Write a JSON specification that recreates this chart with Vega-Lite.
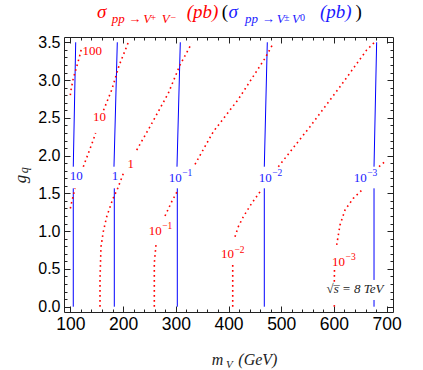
{
  "$schema": "https://vega.github.io/schema/vega-lite/v6.json",
  "width": 329,
  "height": 275,
  "autosize": {"type": "none"},
  "padding": {"left": 64, "top": 37, "right": 30, "bottom": 58},
  "background": "white",
  "config": {
    "view": {"stroke": "#222222", "strokeWidth": 1},
    "axis": {"grid": false, "domain": false, "tickColor": "#222222", "tickWidth": 1, "labelFlush": false, "labelOverlap": false, "title": null}
  },
  "datasets": {
    "blue": [
      {"s": "b10a", "m": 105.6, "g": 0}, {"s": "b10a", "m": 105.6, "g": 1.567},
      {"s": "b10b", "m": 105.6, "g": 1.853}, {"s": "b10b", "m": 110.2, "g": 3.5},
      {"s": "b1a", "m": 183.4, "g": 0}, {"s": "b1a", "m": 183.4, "g": 1.567},
      {"s": "b1b", "m": 182.8, "g": 1.853}, {"s": "b1b", "m": 189.1, "g": 3.5},
      {"s": "b01a", "m": 302.9, "g": 0}, {"s": "b01a", "m": 302.9, "g": 1.567},
      {"s": "b01b", "m": 302.3, "g": 1.853}, {"s": "b01b", "m": 308.6, "g": 3.5},
      {"s": "b001a", "m": 467.9, "g": 0}, {"s": "b001a", "m": 467.9, "g": 1.567},
      {"s": "b001b", "m": 467.9, "g": 1.853}, {"s": "b001b", "m": 473.6, "g": 3.5},
      {"s": "b0001a", "m": 676, "g": 0}, {"s": "b0001a", "m": 676, "g": 0.089},
      {"s": "b0001b", "m": 676, "g": 0.354}, {"s": "b0001b", "m": 676, "g": 1.567},
      {"s": "b0001c", "m": 676, "g": 1.853}, {"s": "b0001c", "m": 681, "g": 3.5}
    ],
    "red": [
      {"s": "r100", "m": 100, "g": 2.8}, {"s": "r100", "m": 100.7, "g": 2.846}, {"s": "r100", "m": 105.6, "g": 3.023}, {"s": "r100", "m": 112.1, "g": 3.177}, {"s": "r100", "m": 117, "g": 3.3}, {"s": "r100", "m": 120.5, "g": 3.4},
      {"s": "r10a", "m": 100, "g": 1.3}, {"s": "r10a", "m": 101.3, "g": 1.346}, {"s": "r10a", "m": 108.9, "g": 1.567},
      {"s": "r10b", "m": 124.6, "g": 1.853}, {"s": "r10b", "m": 143.6, "g": 2.207}, {"s": "r10b", "m": 148, "g": 2.3},
      {"s": "r10c", "m": 163, "g": 2.6}, {"s": "r10c", "m": 178.5, "g": 2.87}, {"s": "r10c", "m": 192.9, "g": 3.2}, {"s": "r10c", "m": 208, "g": 3.464}, {"s": "r10c", "m": 210, "g": 3.5},
      {"s": "r1a", "m": 156.3, "g": 0}, {"s": "r1a", "m": 156.3, "g": 0.354}, {"s": "r1a", "m": 158.2, "g": 0.794}, {"s": "r1a", "m": 162.5, "g": 0.993}, {"s": "r1a", "m": 169, "g": 1.191}, {"s": "r1a", "m": 180.4, "g": 1.422}, {"s": "r1a", "m": 189.9, "g": 1.567}, {"s": "r1a", "m": 201.5, "g": 1.78},
      {"s": "r1b", "m": 225.9, "g": 2.074}, {"s": "r1b", "m": 251.1, "g": 2.383}, {"s": "r1b", "m": 285.8, "g": 2.825}, {"s": "r1b", "m": 308, "g": 3.199}, {"s": "r1b", "m": 330.2, "g": 3.487},
      {"s": "r01a", "m": 259.3, "g": 0}, {"s": "r01a", "m": 259.3, "g": 0.575}, {"s": "r01a", "m": 262.5, "g": 0.817},
      {"s": "r01b", "m": 279.6, "g": 1.201}, {"s": "r01b", "m": 292.3, "g": 1.39}, {"s": "r01b", "m": 304.8, "g": 1.554},
      {"s": "r01c", "m": 336.5, "g": 1.885}, {"s": "r01c", "m": 371.2, "g": 2.317}, {"s": "r01c", "m": 418.6, "g": 2.745}, {"s": "r01c", "m": 469.2, "g": 3.288}, {"s": "r01c", "m": 485, "g": 3.487},
      {"s": "r001a", "m": 408, "g": 0}, {"s": "r001a", "m": 408, "g": 0.575},
      {"s": "r001b", "m": 412.3, "g": 0.927}, {"s": "r001b", "m": 418.6, "g": 1.059}, {"s": "r001b", "m": 428.1, "g": 1.191}, {"s": "r001b", "m": 444, "g": 1.369}, {"s": "r001b", "m": 459.8, "g": 1.522},
      {"s": "r001c", "m": 494.5, "g": 1.853}, {"s": "r001c", "m": 554.6, "g": 2.383}, {"s": "r001c", "m": 611.5, "g": 2.912}, {"s": "r001c", "m": 662.1, "g": 3.398}, {"s": "r001c", "m": 677, "g": 3.5},
      {"s": "r0001a", "m": 600.7, "g": 0}, {"s": "r0001a", "m": 600.7, "g": 0.066},
      {"s": "r0001b", "m": 600.7, "g": 0.331}, {"s": "r0001b", "m": 601, "g": 0.486},
      {"s": "r0001c", "m": 605.2, "g": 0.817}, {"s": "r0001c", "m": 611.5, "g": 1.082}, {"s": "r0001c", "m": 621, "g": 1.28}, {"s": "r0001c", "m": 636.7, "g": 1.435}, {"s": "r0001c", "m": 654.5, "g": 1.554},
      {"s": "r0001d", "m": 685.5, "g": 1.853}, {"s": "r0001d", "m": 696.8, "g": 1.92}, {"s": "r0001d", "m": 700, "g": 1.94}
    ],
    "redPlain": [
      {"t": "100", "m": 141.5, "g": 3.39},
      {"t": "10", "m": 155.3, "g": 2.505},
      {"t": "1", "m": 214.7, "g": 1.893}
    ],
    "redPow": [
      {"b": "10", "e": "−1", "m": 273.3, "g": 1.005},
      {"b": "10", "e": "−2", "m": 410.4, "g": 0.697},
      {"b": "10", "e": "−3", "m": 621, "g": 0.592}
    ],
    "bluePlain": [
      {"t": "10", "m": 111.3, "g": 1.733},
      {"t": "1", "m": 184.7, "g": 1.733}
    ],
    "bluePow": [
      {"b": "10", "e": "−1", "m": 311.2, "g": 1.71},
      {"b": "10", "e": "−2", "m": 482, "g": 1.71},
      {"b": "10", "e": "−3", "m": 662.1, "g": 1.71}
    ],
    "energy": [{"t": "√s̅  = 8 TeV", "m": 640, "g": 0.235}],
    "titleRedBig": [{"t": "σ", "m": 150.6, "g": 3.8175}, {"t": "(pb)", "m": 320.7, "g": 3.8175}],
    "titleRedSub": [{"t": "pp", "m": 178.5, "g": 3.749}, {"t": "→", "m": 210, "g": 3.749}, {"t": "V", "m": 238.4, "g": 3.749}, {"t": "V", "m": 273.3, "g": 3.749}],
    "titleRedSup": [{"t": "+", "m": 252, "g": 3.788}, {"t": "−", "m": 290, "g": 3.788}],
    "titleBlackBig": [{"t": "(", "m": 387.1, "g": 3.8175}, {"t": ")", "m": 640.9, "g": 3.8175}],
    "titleBlueBig": [{"t": "σ", "m": 400, "g": 3.8175}, {"t": "(pb)", "m": 573.6, "g": 3.8175}],
    "titleBlueSub": [{"t": "pp", "m": 431.3, "g": 3.749}, {"t": "→", "m": 463, "g": 3.749}, {"t": "V", "m": 491.4, "g": 3.749}, {"t": "V", "m": 520.5, "g": 3.749}],
    "titleBlueSup": [{"t": "±", "m": 505.3, "g": 3.788}, {"t": "0", "m": 535.6, "g": 3.788}],
    "xTitleBig": [{"t": "m", "m": 368.1, "g": -0.771}, {"t": "(GeV)", "m": 418.6, "g": -0.771}],
    "xTitleSmall": [{"t": "V", "m": 395.3, "g": -0.815}],
    "yTitleBig": [{"t": "g", "m": 15, "g": 1.633}],
    "yTitleSmall": [{"t": "q", "m": 19.7, "g": 1.766}]
  },
  "resolve": {"axis": {"x": "independent", "y": "independent"}},
  "layer": [
    {
      "data": {"name": "blue"},
      "mark": {"type": "line", "color": "#0000ff", "strokeWidth": 1},
      "encoding": {
        "x": {"field": "m", "type": "quantitative", "scale": {"domain": [88, 712], "nice": false, "zero": false},
              "axis": {"orient": "bottom", "values": [100, 200, 300, 400, 500, 600, 700], "ticks": false, "format": "d", "labelFont": "Liberation Sans", "labelFontSize": 17.5, "labelColor": "black", "labelPadding": 3}},
        "y": {"field": "g", "type": "quantitative", "scale": {"domain": [-0.07, 3.57], "nice": false, "zero": false},
              "axis": {"orient": "left", "values": [0, 0.5, 1, 1.5, 2, 2.5, 3, 3.5], "ticks": false, "format": ".1f", "labelFont": "Liberation Sans", "labelFontSize": 16, "labelColor": "black", "labelPadding": 4}},
        "detail": {"field": "s", "type": "nominal"},
        "order": {"value": null}
      }
    },
    {
      "data": {"name": "red"},
      "mark": {"type": "line", "color": "#ff0000", "strokeWidth": 1.6, "strokeDash": [1.6, 3.4]},
      "encoding": {
        "x": {"field": "m", "type": "quantitative",
              "axis": {"orient": "bottom", "values": [100, 200, 300, 400, 500, 600, 700], "labels": false, "tickSize": -6}},
        "y": {"field": "g", "type": "quantitative",
              "axis": {"orient": "left", "values": [0, 0.5, 1, 1.5, 2, 2.5, 3, 3.5], "labels": false, "tickSize": -6}},
        "detail": {"field": "s", "type": "nominal"},
        "order": {"value": null}
      }
    },
    {
      "data": {"name": "redPlain"},
      "mark": {"type": "text", "color": "#ff0000", "font": "Liberation Serif", "fontSize": 13, "align": "center", "baseline": "middle"},
      "encoding": {
        "x": {"field": "m", "type": "quantitative",
              "axis": {"orient": "top", "values": [100, 200, 300, 400, 500, 600, 700], "labels": false, "tickSize": -6}},
        "y": {"field": "g", "type": "quantitative",
              "axis": {"orient": "right", "values": [0, 0.5, 1, 1.5, 2, 2.5, 3, 3.5], "labels": false, "tickSize": -6}},
        "text": {"field": "t", "type": "nominal"}
      }
    },
    {
      "data": {"name": "bluePlain"},
      "mark": {"type": "text", "color": "#1a1aff", "font": "Liberation Serif", "fontSize": 13, "align": "center", "baseline": "middle"},
      "encoding": {
        "x": {"field": "m", "type": "quantitative",
              "axis": {"orient": "bottom", "values": [100, 120, 140, 160, 180, 200, 220, 240, 260, 280, 300, 320, 340, 360, 380, 400, 420, 440, 460, 480, 500, 520, 540, 560, 580, 600, 620, 640, 660, 680, 700], "labels": false, "tickSize": -3}},
        "y": {"field": "g", "type": "quantitative",
              "axis": {"orient": "left", "values": [0, 0.1, 0.2, 0.3, 0.4, 0.5, 0.6, 0.7, 0.8, 0.9, 1, 1.1, 1.2, 1.3, 1.4, 1.5, 1.6, 1.7, 1.8, 1.9, 2, 2.1, 2.2, 2.3, 2.4, 2.5, 2.6, 2.7, 2.8, 2.9, 3, 3.1, 3.2, 3.3, 3.4, 3.5], "labels": false, "tickSize": -3}},
        "text": {"field": "t", "type": "nominal"}
      }
    },
    {
      "data": {"name": "energy"},
      "mark": {"type": "text", "color": "#222222", "font": "Liberation Serif", "fontStyle": "italic", "fontSize": 13, "align": "center", "baseline": "middle"},
      "encoding": {
        "x": {"field": "m", "type": "quantitative",
              "axis": {"orient": "top", "values": [100, 120, 140, 160, 180, 200, 220, 240, 260, 280, 300, 320, 340, 360, 380, 400, 420, 440, 460, 480, 500, 520, 540, 560, 580, 600, 620, 640, 660, 680, 700], "labels": false, "tickSize": -3}},
        "y": {"field": "g", "type": "quantitative",
              "axis": {"orient": "right", "values": [0, 0.1, 0.2, 0.3, 0.4, 0.5, 0.6, 0.7, 0.8, 0.9, 1, 1.1, 1.2, 1.3, 1.4, 1.5, 1.6, 1.7, 1.8, 1.9, 2, 2.1, 2.2, 2.3, 2.4, 2.5, 2.6, 2.7, 2.8, 2.9, 3, 3.1, 3.2, 3.3, 3.4, 3.5], "labels": false, "tickSize": -3}},
        "text": {"field": "t", "type": "nominal"}
      }
    },
    {
      "data": {"name": "redPow"},
      "mark": {"type": "text", "color": "#ff0000", "font": "Liberation Serif", "fontSize": 13, "align": "right", "baseline": "middle"},
      "encoding": {
        "x": {"field": "m", "type": "quantitative", "axis": null},
        "y": {"field": "g", "type": "quantitative", "axis": null},
        "text": {"field": "b", "type": "nominal"}
      }
    },
    {
      "data": {"name": "redPow"},
      "mark": {"type": "text", "color": "#ff0000", "font": "Liberation Serif", "fontSize": 9.5, "align": "left", "baseline": "middle", "dx": 0.5, "dy": -4.5},
      "encoding": {
        "x": {"field": "m", "type": "quantitative", "axis": null},
        "y": {"field": "g", "type": "quantitative", "axis": null},
        "text": {"field": "e", "type": "nominal"}
      }
    },
    {
      "data": {"name": "bluePow"},
      "mark": {"type": "text", "color": "#1a1aff", "font": "Liberation Serif", "fontSize": 13, "align": "right", "baseline": "middle"},
      "encoding": {
        "x": {"field": "m", "type": "quantitative", "axis": null},
        "y": {"field": "g", "type": "quantitative", "axis": null},
        "text": {"field": "b", "type": "nominal"}
      }
    },
    {
      "data": {"name": "bluePow"},
      "mark": {"type": "text", "color": "#1a1aff", "font": "Liberation Serif", "fontSize": 9.5, "align": "left", "baseline": "middle", "dx": 0.5, "dy": -4.5},
      "encoding": {
        "x": {"field": "m", "type": "quantitative", "axis": null},
        "y": {"field": "g", "type": "quantitative", "axis": null},
        "text": {"field": "e", "type": "nominal"}
      }
    },
    {
      "data": {"name": "titleRedBig"},
      "mark": {"type": "text", "color": "#ff0000", "font": "Liberation Serif", "fontStyle": "italic", "fontSize": 19, "align": "left", "baseline": "alphabetic"},
      "encoding": {
        "x": {"field": "m", "type": "quantitative", "axis": null},
        "y": {"field": "g", "type": "quantitative", "axis": null},
        "text": {"field": "t", "type": "nominal"}
      }
    },
    {
      "data": {"name": "titleRedSub"},
      "mark": {"type": "text", "color": "#ff0000", "font": "Liberation Serif", "fontStyle": "italic", "fontSize": 13, "align": "left", "baseline": "alphabetic"},
      "encoding": {
        "x": {"field": "m", "type": "quantitative", "axis": null},
        "y": {"field": "g", "type": "quantitative", "axis": null},
        "text": {"field": "t", "type": "nominal"}
      }
    },
    {
      "data": {"name": "titleRedSup"},
      "mark": {"type": "text", "color": "#ff0000", "font": "Liberation Serif", "fontSize": 10, "align": "left", "baseline": "alphabetic"},
      "encoding": {
        "x": {"field": "m", "type": "quantitative", "axis": null},
        "y": {"field": "g", "type": "quantitative", "axis": null},
        "text": {"field": "t", "type": "nominal"}
      }
    },
    {
      "data": {"name": "titleBlackBig"},
      "mark": {"type": "text", "color": "#000000", "font": "Liberation Serif", "fontSize": 19, "align": "left", "baseline": "alphabetic"},
      "encoding": {
        "x": {"field": "m", "type": "quantitative", "axis": null},
        "y": {"field": "g", "type": "quantitative", "axis": null},
        "text": {"field": "t", "type": "nominal"}
      }
    },
    {
      "data": {"name": "titleBlueBig"},
      "mark": {"type": "text", "color": "#1a1aff", "font": "Liberation Serif", "fontStyle": "italic", "fontSize": 19, "align": "left", "baseline": "alphabetic"},
      "encoding": {
        "x": {"field": "m", "type": "quantitative", "axis": null},
        "y": {"field": "g", "type": "quantitative", "axis": null},
        "text": {"field": "t", "type": "nominal"}
      }
    },
    {
      "data": {"name": "titleBlueSub"},
      "mark": {"type": "text", "color": "#1a1aff", "font": "Liberation Serif", "fontStyle": "italic", "fontSize": 13, "align": "left", "baseline": "alphabetic"},
      "encoding": {
        "x": {"field": "m", "type": "quantitative", "axis": null},
        "y": {"field": "g", "type": "quantitative", "axis": null},
        "text": {"field": "t", "type": "nominal"}
      }
    },
    {
      "data": {"name": "titleBlueSup"},
      "mark": {"type": "text", "color": "#1a1aff", "font": "Liberation Serif", "fontSize": 10, "align": "left", "baseline": "alphabetic"},
      "encoding": {
        "x": {"field": "m", "type": "quantitative", "axis": null},
        "y": {"field": "g", "type": "quantitative", "axis": null},
        "text": {"field": "t", "type": "nominal"}
      }
    },
    {
      "data": {"name": "xTitleBig"},
      "mark": {"type": "text", "color": "#222222", "font": "Liberation Serif", "fontStyle": "italic", "fontSize": 16, "align": "left", "baseline": "alphabetic"},
      "encoding": {
        "x": {"field": "m", "type": "quantitative", "axis": null},
        "y": {"field": "g", "type": "quantitative", "axis": null},
        "text": {"field": "t", "type": "nominal"}
      }
    },
    {
      "data": {"name": "xTitleSmall"},
      "mark": {"type": "text", "color": "#222222", "font": "Liberation Serif", "fontStyle": "italic", "fontSize": 11, "align": "left", "baseline": "alphabetic"},
      "encoding": {
        "x": {"field": "m", "type": "quantitative", "axis": null},
        "y": {"field": "g", "type": "quantitative", "axis": null},
        "text": {"field": "t", "type": "nominal"}
      }
    },
    {
      "data": {"name": "yTitleBig"},
      "mark": {"type": "text", "color": "#222222", "font": "Liberation Serif", "fontStyle": "italic", "fontSize": 17, "align": "left", "baseline": "alphabetic", "angle": 270},
      "encoding": {
        "x": {"field": "m", "type": "quantitative", "axis": null},
        "y": {"field": "g", "type": "quantitative", "axis": null},
        "text": {"field": "t", "type": "nominal"}
      }
    },
    {
      "data": {"name": "yTitleSmall"},
      "mark": {"type": "text", "color": "#222222", "font": "Liberation Serif", "fontStyle": "italic", "fontSize": 12, "align": "left", "baseline": "alphabetic", "angle": 270},
      "encoding": {
        "x": {"field": "m", "type": "quantitative", "axis": null},
        "y": {"field": "g", "type": "quantitative", "axis": null},
        "text": {"field": "t", "type": "nominal"}
      }
    }
  ]
}
